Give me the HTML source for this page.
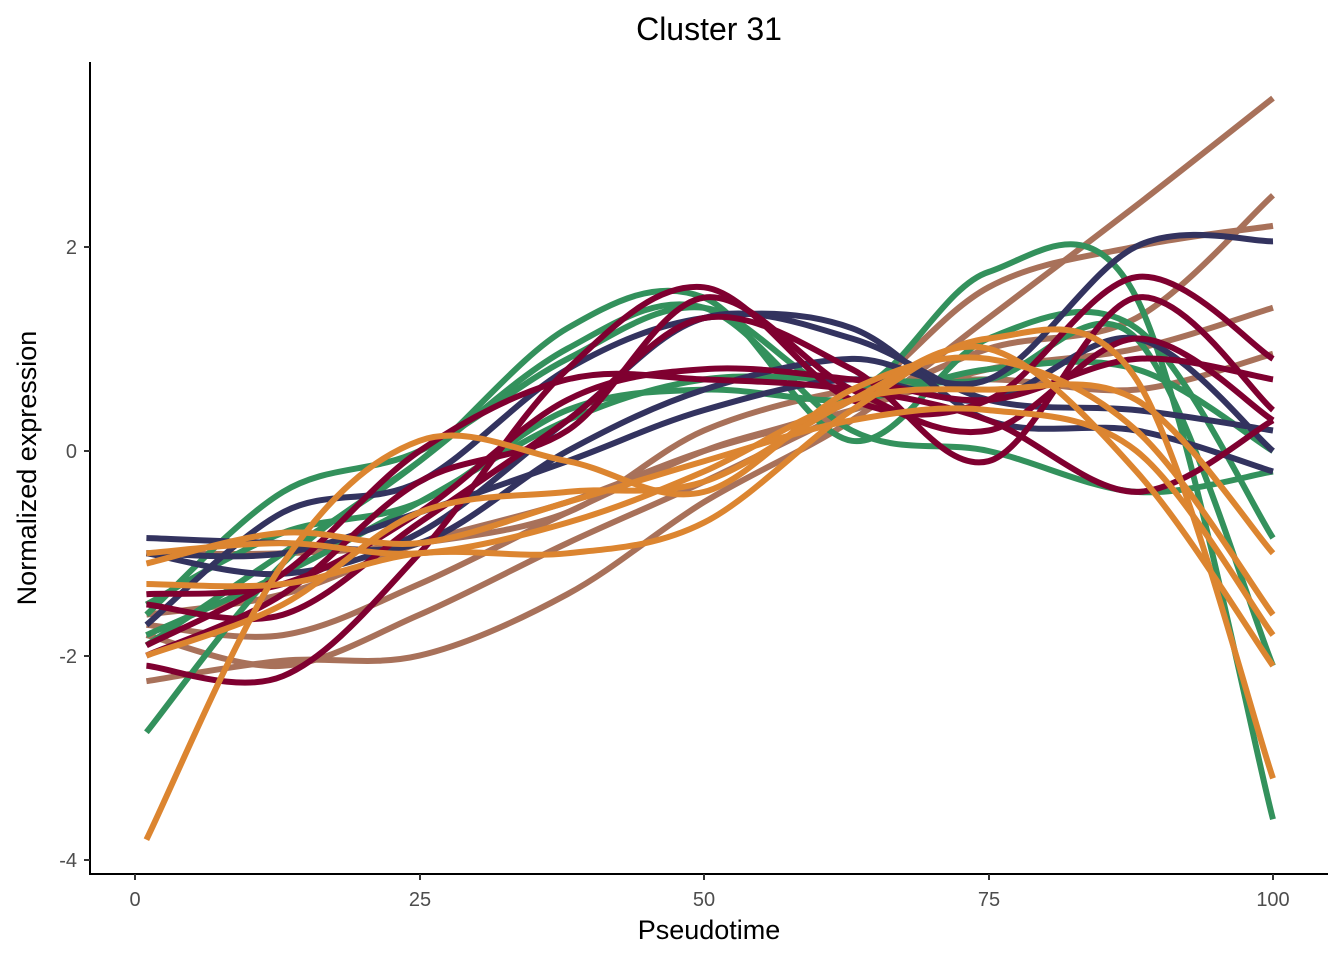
<!DOCTYPE html>
<html><head><meta charset="utf-8"><style>
body{margin:0;background:#fff;}
svg{display:block;font-family:"Liberation Sans",sans-serif;}
</style></head><body>
<svg id="s" width="1344" height="960" viewBox="0 0 1344 960">
<rect width="1344" height="960" fill="#fff"/>
<g id="curves" fill="none" stroke-width="6" stroke-linecap="butt" stroke-linejoin="round"></g>
<line x1="90" y1="62" x2="90" y2="875" stroke="#000" stroke-width="2"/>
<line x1="89" y1="874" x2="1328" y2="874" stroke="#000" stroke-width="2"/>
<g stroke="#333" stroke-width="2">
<line x1="84" y1="247" x2="90" y2="247"/><line x1="84" y1="451" x2="90" y2="451"/>
<line x1="84" y1="656" x2="90" y2="656"/><line x1="84" y1="860" x2="90" y2="860"/>
<line x1="135" y1="874" x2="135" y2="880"/><line x1="420" y1="874" x2="420" y2="880"/>
<line x1="704" y1="874" x2="704" y2="880"/><line x1="989" y1="874" x2="989" y2="880"/>
<line x1="1273" y1="874" x2="1273" y2="880"/>
</g>
<g fill="#4d4d4d" font-size="20" text-anchor="end">
<text x="77" y="254">2</text><text x="77" y="458">0</text><text x="77" y="663">-2</text><text x="77" y="867">-4</text>
</g>
<g fill="#4d4d4d" font-size="20" text-anchor="middle">
<text x="135" y="906">0</text><text x="420" y="906">25</text><text x="704" y="906">50</text><text x="989" y="906">75</text><text x="1273" y="906">100</text>
</g>
<text x="709" y="939" font-size="27" text-anchor="middle">Pseudotime</text>
<text x="709" y="40" font-size="32" text-anchor="middle">Cluster 31</text>
<text transform="translate(36,468) rotate(-90)" font-size="27" text-anchor="middle">Normalized expression</text>
</svg>
<script>
var X=[1,13,25,38,50,63,75,88,100];
function px(x){return 135+x*11.38;} function py(y){return 451-y*102.3;}
var G="#33915C",N="#33335F",C="#7F0030",B="#A8715A",O="#DC8530";
var data=[
[B,[-2.25,-2.05,-2.0,-1.4,-0.5,0.3,1.3,2.4,3.45]],
[B,[-1.7,-1.8,-1.3,-0.6,0.0,0.5,1.6,2.0,2.2]],
[B,[-1.8,-2.1,-1.6,-0.9,-0.3,0.4,1.0,1.3,2.5]],
[B,[-1.0,-1.0,-0.9,-0.6,0.2,0.6,0.7,0.6,0.95]],
[B,[-1.6,-1.4,-0.9,-0.5,0.0,0.4,0.8,1.0,1.4]],
[G,[-2.75,-1.1,-0.1,1.0,1.4,0.2,0.0,-0.4,-0.2]],
[G,[-1.6,-0.4,0.0,0.9,1.4,0.6,1.75,1.5,-3.6]],
[G,[-1.8,-1.2,-0.5,0.3,0.7,0.7,0.7,1.1,-2.1]],
[G,[-1.9,-1.0,-0.1,1.2,1.5,0.1,1.1,1.2,-0.85]],
[G,[-1.5,-0.8,-0.5,0.4,0.6,0.5,0.8,0.8,0.0]],
[N,[-0.85,-0.9,-0.9,0.0,0.6,0.9,0.7,2.0,2.05]],
[N,[-1.0,-1.2,-0.8,0.3,1.3,1.1,0.5,0.4,0.2]],
[N,[-1.7,-0.6,-0.3,0.8,1.3,1.2,0.3,0.2,-0.2]],
[N,[-1.0,-1.0,-0.6,-0.1,0.4,0.7,0.5,1.1,0.0]],
[C,[-2.1,-2.2,-1.0,0.8,1.6,0.5,0.5,1.7,0.9]],
[C,[-1.5,-1.6,-0.7,0.3,1.3,0.8,-0.1,1.5,0.4]],
[C,[-1.9,-1.2,0.0,0.7,0.7,0.6,0.3,-0.4,0.3]],
[C,[-1.4,-1.3,-0.6,0.5,0.8,0.7,0.5,0.9,0.7]],
[C,[-2.0,-1.4,-0.3,0.2,1.5,0.6,0.2,1.1,0.3]],
[O,[-3.8,-1.1,0.1,-0.1,-0.4,0.6,0.9,0.2,-1.6]],
[O,[-1.3,-1.3,-1.0,-1.0,-0.7,0.4,1.1,0.7,-3.2]],
[O,[-1.0,-0.9,-1.0,-0.7,-0.2,0.5,0.6,0.5,-1.0]],
[O,[-1.1,-0.8,-0.9,-0.5,-0.1,0.3,0.4,0.0,-1.8]],
[O,[-2.0,-1.5,-0.6,-0.4,-0.3,0.5,1.0,-0.2,-2.1]]
];
var g=document.getElementById("curves"),ns="http://www.w3.org/2000/svg";
data.forEach(function(d){
 var P=X.map(function(x,i){return [px(x),py(d[1][i])];});
 var s="M"+P[0][0].toFixed(1)+","+P[0][1].toFixed(1);
 for(var i=0;i<P.length-1;i++){
  var p0=P[Math.max(i-1,0)],p1=P[i],p2=P[i+1],p3=P[Math.min(i+2,P.length-1)];
  var c1=[p1[0]+(p2[0]-p0[0])/6,p1[1]+(p2[1]-p0[1])/6];
  var c2=[p2[0]-(p3[0]-p1[0])/6,p2[1]-(p3[1]-p1[1])/6];
  s+="C"+c1[0].toFixed(1)+","+c1[1].toFixed(1)+" "+c2[0].toFixed(1)+","+c2[1].toFixed(1)+" "+p2[0].toFixed(1)+","+p2[1].toFixed(1);
 }
 var p=document.createElementNS(ns,"path");p.setAttribute("d",s);p.setAttribute("stroke",d[0]);g.appendChild(p);
});
</script>
</body></html>
